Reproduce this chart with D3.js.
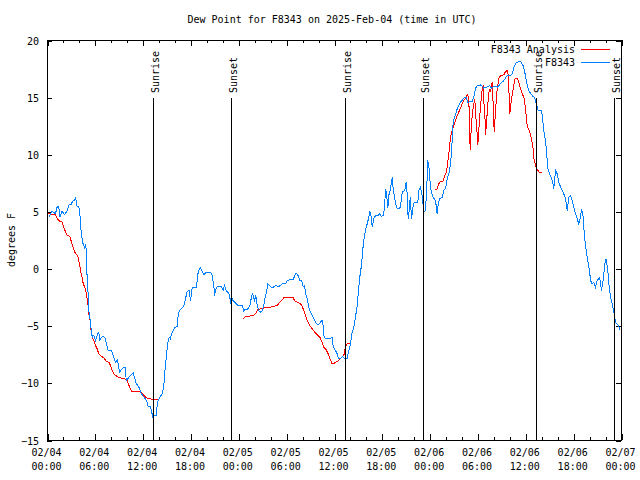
<!DOCTYPE html>
<html><head><meta charset="utf-8">
<script src="https://cdn.jsdelivr.net/npm/d3@7"></script>
<style>
body{margin:0;background:#fff}
svg{display:block}
text{font-family:"DejaVu Sans Mono",monospace;font-size:10px;fill:#000}
</style></head><body><svg id="c" width="640" height="480"></svg>
<script>
// ---- data (hours after 2025-02-04 00:00 UTC, degrees F) ----
const titleText = "Dew Point for F8343 on 2025-Feb-04 (time in UTC)";
const yLabel = "degrees F";
const seriesNames = ["F8343 Analysis", "F8343"];
const seriesColors = ["#ff0000", "#0080ff"];
const yTicks = [-15, -10, -5, 0, 5, 10, 15, 20];
const majorTickHours = [0, 6, 12, 18, 24, 30, 36, 42, 48, 54, 60, 66, 72];
const minorTickHours = d3.range(0, 73, 2);
const sunEvents = ["Sunrise", "Sunset", "Sunrise", "Sunset", "Sunrise", "Sunset"];
const sunHours = [13.33, 23.12, 37.38, 47.2, 61.37, 71.15];

const f8343 = [[0.16,4.54],[0.59,5.07],[1.0,4.84],[1.22,5.47],[1.42,5.47],[1.54,4.54],[1.84,5.07],[2.13,4.77],[2.47,5.1],[2.67,5.6],[2.97,5.65],[3.14,5.93],[3.42,6.06],[3.55,6.3],[3.64,5.56],[3.93,5.41],[4.05,4.98],[4.14,3.81],[4.26,3.08],[4.39,2.35],[4.55,2.06],[4.68,1.77],[4.77,2.15],[4.85,1.77],[4.89,-0.5],[5.02,-0.5],[5.11,-2.75],[5.18,-3.6],[5.31,-4.2],[5.43,-5.0],[5.61,-5.96],[5.81,-5.8],[6.02,-6.25],[6.31,-5.67],[6.43,-5.52],[6.56,-6.19],[6.86,-5.9],[7.19,-5.96],[7.4,-6.6],[7.61,-7.13],[8.03,-7.13],[8.32,-7.71],[8.53,-8.15],[8.74,-7.94],[8.87,-8.29],[9.03,-9.03],[9.28,-8.8],[9.57,-8.58],[9.78,-8.58],[9.87,-9.75],[10.07,-9.6],[10.41,-9.31],[10.75,-9.1],[10.91,-9.46],[11.13,-10.04],[11.33,-10.19],[11.5,-10.39],[11.79,-10.92],[12.08,-11.2],[12.42,-11.5],[12.63,-12.03],[12.92,-12.03],[13.21,-12.96],[13.33,-12.8],[13.67,-12.8],[13.76,-11.79],[13.89,-11.5],[14.09,-11.2],[14.39,-10.92],[14.59,-10.2],[14.71,-9.0],[14.84,-8.2],[14.96,-7.2],[15.14,-6.3],[15.27,-5.96],[15.43,-6.1],[15.55,-5.67],[15.77,-5.37],[15.93,-5.14],[16.27,-5.02],[16.39,-4.06],[16.56,-3.63],[16.81,-3.48],[17.1,-3.19],[17.22,-2.9],[17.4,-2.31],[17.52,-1.94],[17.77,-1.88],[17.94,-2.75],[18.15,-1.58],[18.69,-1.64],[18.82,-0.56],[18.98,-0.12],[19.19,0.11],[19.4,-0.19],[19.61,-0.48],[19.91,-0.27],[20.45,-0.27],[20.66,-0.56],[20.86,-1.44],[20.95,-2.31],[21.07,-1.82],[21.29,-1.53],[21.79,-1.53],[22.04,-1.88],[22.2,-1.44],[22.45,-1.94],[22.74,-2.08],[22.95,-2.75],[23.08,-3.33],[23.17,-2.6],[23.37,-2.81],[23.67,-3.04],[23.92,-3.19],[24.46,-3.19],[24.62,-3.77],[24.71,-3.56],[25.05,-3.56],[25.25,-3.33],[25.46,-3.04],[25.59,-2.31],[25.75,-2.17],[25.97,-2.75],[26.13,-2.31],[26.3,-3.19],[26.5,-3.63],[26.72,-3.77],[26.93,-3.63],[27.13,-3.19],[27.26,-2.6],[27.47,-2.02],[27.63,-1.29],[27.85,-1.44],[28.19,-1.64],[28.6,-1.44],[29.01,-1.54],[29.44,-1.29],[29.85,-1.29],[30.07,-1.0],[30.39,-0.92],[30.82,-0.92],[31.02,-0.56],[31.2,-0.36],[31.36,-0.48],[31.52,-0.71],[31.65,-1.0],[31.82,-1.0],[31.95,-1.15],[32.07,-1.58],[32.24,-1.44],[32.36,-2.1],[32.58,-2.6],[32.78,-3.33],[32.99,-3.77],[33.2,-4.06],[33.4,-4.35],[33.62,-4.65],[33.83,-4.8],[34.03,-4.85],[34.24,-4.65],[34.46,-4.5],[34.58,-4.94],[34.66,-5.81],[34.87,-6.1],[35.71,-6.02],[35.84,-6.83],[36.13,-7.13],[36.34,-7.42],[36.46,-7.77],[36.75,-7.85],[36.97,-7.65],[37.17,-7.79],[37.59,-7.79],[37.79,-7.13],[38.01,-6.54],[38.22,-5.52],[38.42,-5.08],[38.63,-4.2],[38.85,-3.19],[39.05,-1.58],[39.17,-0.71],[39.35,0.17],[39.47,1.04],[39.6,2.06],[39.76,2.94],[39.93,3.52],[40.1,3.96],[40.26,4.4],[40.43,5.07],[40.6,4.6],[40.73,3.67],[40.93,4.4],[41.14,4.69],[41.43,4.69],[41.68,4.83],[41.86,4.6],[42.11,4.69],[42.27,5.27],[42.4,7.02],[42.52,6.58],[42.69,5.36],[42.81,6.44],[43.02,7.02],[43.24,8.04],[43.36,7.02],[43.56,6.15],[43.78,5.36],[44.19,5.27],[44.37,6.0],[44.49,6.73],[44.82,6.88],[44.99,7.6],[45.12,6.58],[45.24,4.4],[45.37,5.13],[45.5,6.29],[45.66,4.4],[45.87,5.56],[46.03,5.85],[46.45,5.85],[46.62,7.02],[46.79,7.17],[47.0,6.44],[47.2,4.98],[47.38,5.13],[47.54,6.44],[47.7,9.5],[47.83,9.06],[47.95,7.9],[48.13,6.73],[48.38,6.29],[48.67,6.0],[48.88,4.83],[49.01,5.71],[49.21,6.15],[49.51,6.29],[49.71,6.88],[49.92,7.02],[50.14,7.9],[50.34,8.33],[50.55,9.21],[50.68,10.23],[50.8,11.83],[50.89,12.85],[51.05,13.29],[51.27,13.73],[51.39,14.02],[51.59,14.31],[51.8,14.6],[52.02,14.75],[52.22,14.96],[52.52,15.04],[52.72,14.6],[53.27,14.66],[53.47,15.04],[53.69,15.83],[53.9,16.06],[54.31,16.12],[54.53,15.98],[54.73,15.83],[55.15,15.92],[55.44,16.06],[55.69,15.83],[55.98,15.98],[56.41,15.92],[56.82,16.21],[57.24,16.5],[57.66,16.94],[58.08,16.94],[58.29,17.08],[58.58,17.81],[58.83,18.1],[59.33,18.16],[59.62,17.87],[59.83,17.38],[60.05,16.5],[60.25,15.92],[60.46,15.48],[60.67,15.33],[60.87,15.13],[61.09,15.04],[61.3,14.46],[61.55,13.88],[61.97,13.88],[62.05,13.44],[62.25,12.13],[62.47,11.25],[62.59,10.38],[62.76,8.77],[62.97,8.33],[63.18,8.04],[63.38,7.6],[63.51,7.02],[63.63,8.04],[63.76,8.63],[63.93,8.33],[64.14,7.6],[64.44,7.02],[64.76,6.58],[64.98,6.15],[65.19,5.13],[65.39,6.29],[65.6,6.44],[65.81,6.0],[66.02,5.42],[66.23,4.83],[66.44,4.4],[66.64,3.96],[66.86,4.54],[66.98,5.27],[67.15,4.83],[67.36,2.79],[67.57,1.63],[67.77,0.75],[67.99,-0.13],[68.11,-1.0],[68.32,-1.29],[68.53,-1.15],[68.74,-1.58],[68.95,-1.0],[69.24,-0.77],[69.37,-1.2],[69.49,-1.88],[69.7,-1.0],[69.9,0.46],[70.08,0.9],[70.28,-0.12],[70.46,-1.58],[70.62,-2.46],[70.84,-3.04],[71.04,-3.77],[71.25,-4.65],[71.46,-4.8],[71.66,-4.94],[71.79,-5.37]];

const f8343Analysis = [[0.13,4.9],[0.59,4.77],[1.0,4.77],[1.22,4.4],[1.54,4.19],[1.84,4.1],[1.97,3.81],[2.17,3.43],[2.38,3.02],[2.8,2.85],[3.01,2.35],[3.22,1.92],[3.42,1.48],[3.64,1.28],[3.8,1.1],[4.01,0.46],[4.18,-0.27],[4.35,-0.71],[4.48,-1.29],[4.68,-1.58],[4.85,-2.02],[4.98,-2.6],[5.11,-3.33],[5.18,-3.92],[5.39,-4.65],[5.48,-5.52],[5.61,-5.96],[5.81,-6.25],[5.93,-6.54],[6.23,-6.98],[6.43,-7.42],[6.65,-7.56],[7.06,-7.77],[7.36,-8.06],[7.69,-8.15],[7.9,-8.44],[8.12,-8.88],[8.4,-9.23],[8.74,-9.4],[9.16,-9.52],[9.66,-9.6],[10.0,-9.75],[10.12,-10.04],[10.32,-10.33],[10.54,-10.68],[11.67,-10.68],[11.88,-10.92],[12.29,-11.2],[12.58,-11.3],[13.33,-11.44],[13.96,-11.44],
null,
[24.62,-4.35],[24.71,-4.2],[25.05,-4.15],[25.88,-4.06],[26.22,-3.77],[26.38,-3.56],[26.72,-3.48],[27.13,-3.4],[27.76,-3.4],[28.19,-3.27],[28.81,-3.19],[29.14,-2.9],[29.44,-2.69],[29.64,-2.52],[30.82,-2.52],[30.98,-2.75],[31.32,-2.9],[31.74,-3.04],[31.95,-3.27],[32.15,-3.63],[32.36,-4.06],[32.58,-4.5],[32.9,-4.94],[33.2,-5.23],[33.53,-5.52],[33.83,-5.73],[34.16,-5.96],[34.46,-6.4],[34.66,-6.83],[34.96,-7.06],[35.21,-7.42],[35.41,-7.85],[35.71,-8.29],[35.91,-8.29],[36.13,-8.15],[36.54,-8.0],[36.84,-7.77],[37.17,-7.56],[37.38,-6.83],[37.59,-6.54],[37.92,-6.54],
null,
[48.67,6.94],[48.88,7.02],[49.08,7.46],[49.29,7.66],[49.58,7.66],[49.83,8.19],[50.05,8.48],[50.21,9.35],[50.43,10.67],[50.55,11.54],[50.76,12.13],[50.96,12.56],[51.18,13.0],[51.39,13.44],[51.59,13.73],[51.8,14.08],[52.02,14.46],[52.22,14.75],[52.43,14.9],[52.56,15.19],[52.72,15.25],[52.85,14.75],[52.93,12.85],[53.02,10.38],[53.15,12.27],[53.27,13.44],[53.47,14.46],[53.6,14.9],[53.69,13.73],[53.85,12.27],[53.98,10.88],[54.1,12.13],[54.23,13.44],[54.4,14.9],[54.53,15.77],[54.65,15.92],[54.73,14.6],[54.86,13.59],[54.94,11.69],[55.07,12.85],[55.19,14.02],[55.32,15.19],[55.44,15.77],[55.57,15.48],[55.78,16.35],[55.91,14.31],[56.03,12.0],[56.21,14.0],[56.41,15.77],[56.61,16.65],[56.82,16.94],[57.24,17.0],[57.45,17.29],[57.74,17.38],[57.87,15.77],[58.0,13.59],[58.17,14.75],[58.42,15.77],[58.58,16.5],[58.71,16.7],[58.92,16.7],[59.12,16.35],[59.33,15.77],[59.54,15.33],[59.75,15.04],[59.96,14.02],[60.17,12.56],[60.5,11.98],[60.62,11.7],[60.87,10.8],[61.03,9.6],[61.24,9.0],[61.45,8.7],[61.65,8.48],[61.99,8.48]];

// ---- chart ----
const t0 = Date.UTC(2025, 1, 4);
const toDate = h => new Date(t0 + h * 3600e3);
const svg = d3.select("#c");
const L = 47, R = 621, T = 40, B = 440;

const x = d3.scaleUtc().domain([toDate(0), toDate(72)]).range([L + 0.5, R + 0.5]);
const y = d3.scaleLinear().domain([-15, 20]).range([B + 0.5, T + 0.5]);

const noDomain = g => g.select(".domain").remove();
const crisp = g => g.selectAll("line").attr("shape-rendering", "crispEdges").attr("stroke", "#000");

// minor x ticks
svg.append("g").attr("transform", `translate(0,${B})`)
  .call(d3.axisBottom(x).tickValues(minorTickHours.map(toDate)).tickSize(-3).tickFormat(""))
  .call(noDomain).call(crisp);
svg.append("g").attr("transform", `translate(0,${T})`)
  .call(d3.axisTop(x).tickValues(minorTickHours.map(toDate)).tickSize(-3).tickFormat(""))
  .call(noDomain).call(crisp);
// major x ticks
svg.append("g").attr("transform", `translate(0,${B})`)
  .call(d3.axisBottom(x).tickValues(majorTickHours.map(toDate)).tickSize(-6).tickFormat(""))
  .call(noDomain).call(crisp);
svg.append("g").attr("transform", `translate(0,${T})`)
  .call(d3.axisTop(x).tickValues(majorTickHours.map(toDate)).tickSize(-6).tickFormat(""))
  .call(noDomain).call(crisp);

// y axes
const yl = svg.append("g").attr("transform", `translate(${L},0)`)
  .call(d3.axisLeft(y).tickValues(yTicks).tickSize(-5).tickPadding(8).tickFormat(d3.format("d")))
  .call(noDomain).call(crisp);
yl.selectAll("text").attr("font-family", null).attr("font-size", null).attr("dy", "0.35em");
svg.append("g").attr("transform", `translate(${R},0)`)
  .call(d3.axisRight(y).tickValues(yTicks).tickSize(-5).tickFormat(""))
  .call(noDomain).call(crisp);

// x tick labels (two lines)
const fmtD = d3.utcFormat("%m/%d"), fmtT = d3.utcFormat("%H:%M");
const xl = svg.append("g").selectAll("text").data(majorTickHours.map(toDate)).join("text")
  .attr("text-anchor", "middle").attr("y", 456);
xl.append("tspan").attr("x", d => x(d) - 1).text(d => fmtD(d));
xl.append("tspan").attr("x", d => x(d) - 1).attr("dy", 14).text(d => fmtT(d));

// series
const line = d3.line().defined(d => d !== null).x(d => x(toDate(d[0]))).y(d => y(d[1]));
svg.append("path").datum(f8343Analysis).attr("d", line)
  .attr("fill", "none").attr("stroke", seriesColors[0]).attr("stroke-width", 1)
  .attr("shape-rendering", "crispEdges");
svg.append("path").datum(f8343).attr("d", line)
  .attr("fill", "none").attr("stroke", seriesColors[1]).attr("stroke-width", 1)
  .attr("shape-rendering", "crispEdges");

// sunrise / sunset
const ev = svg.append("g").selectAll("g").data(sunHours.map((h, i) => ({h, name: sunEvents[i]}))).join("g");
const ex = d => Math.floor(x(toDate(d.h))) + 0.5;
ev.append("line").attr("x1", ex).attr("x2", ex)
  .attr("y1", 98).attr("y2", B).attr("stroke", "#000").attr("shape-rendering", "crispEdges");
ev.append("text").attr("transform", d => `translate(${ex(d) + 5.5},93) rotate(-90)`)
  .text(d => d.name);

// border
svg.append("rect").attr("x", L + 0.5).attr("y", T + 0.5).attr("width", R - L).attr("height", B - T)
  .attr("fill", "none").attr("stroke", "#000").attr("shape-rendering", "crispEdges");

// legend
seriesNames.forEach((n, i) => {
  const yy = 49.5 + i * 13;
  svg.append("text").attr("x", 575).attr("y", yy + 3.5).attr("text-anchor", "end").text(n);
  svg.append("line").attr("x1", 581).attr("x2", 610).attr("y1", yy).attr("y2", yy)
    .attr("stroke", seriesColors[i]).attr("shape-rendering", "crispEdges");
});

// title and y label
svg.append("text").attr("x", 332).attr("y", 23).attr("text-anchor", "middle").text(titleText);
svg.append("text").attr("transform", "translate(15,240) rotate(-90)").attr("text-anchor", "middle").text(yLabel);
</script></body></html>
